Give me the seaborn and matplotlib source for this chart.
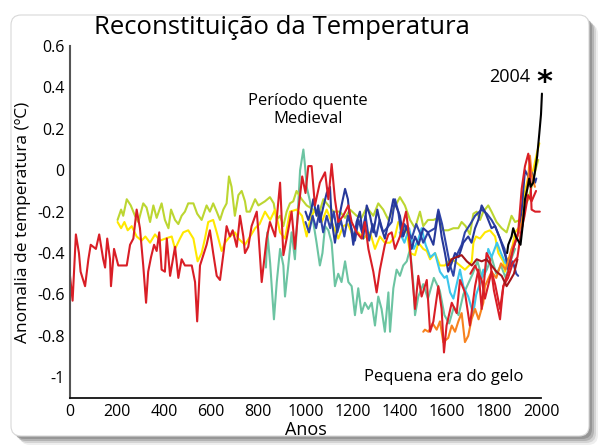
import matplotlib
matplotlib.use('Agg')
import matplotlib.pyplot as plt
from matplotlib.patches import FancyBboxPatch
from matplotlib.transforms import IdentityTransform
import pandas as pd
import seaborn as sns

# ============================================
# Data
# ============================================
red1_years = [0, 11, 25, 38, 45, 64, 78, 88, 110, 124, 141, 149, 158, 170, 174, 187, 205,
              241, 255, 269, 283, 297, 311, 323, 332, 344, 357, 368, 379, 389, 403, 411, 425,
              446, 460, 474, 488, 517, 531, 540, 552, 566, 580, 594, 608, 623, 637, 654, 665,
              679, 691, 708, 722, 736, 743, 757, 771, 793, 800, 814, 835, 849, 871, 892, 906,
              920, 941, 955, 969, 986, 1000, 1012, 1026, 1040, 1061, 1083, 1097, 1111, 1125,
              1139, 1160, 1182, 1196, 1217, 1238, 1252, 1267, 1288, 1302, 1316, 1337, 1352,
              1366, 1380, 1401, 1427, 1436, 1451, 1465, 1479, 1493, 1515, 1529, 1543, 1564,
              1578, 1588, 1599, 1621, 1642, 1656, 1677, 1698, 1720, 1734, 1748, 1769, 1783,
              1800, 1815, 1826, 1840, 1860, 1880, 1900, 1915, 1930, 1945, 1960, 1979]
red1_vals = [-0.51, -0.63, -0.31, -0.40, -0.49, -0.56, -0.43, -0.36, -0.38, -0.31, -0.43,
             -0.47, -0.33, -0.43, -0.56, -0.38, -0.46, -0.46, -0.36, -0.33, -0.19, -0.28,
             -0.46, -0.64, -0.49, -0.42, -0.36, -0.39, -0.30, -0.48, -0.49, -0.33, -0.51,
             -0.37, -0.52, -0.43, -0.46, -0.46, -0.54, -0.73, -0.46, -0.41, -0.36, -0.29,
             -0.40, -0.51, -0.53, -0.38, -0.27, -0.32, -0.29, -0.37, -0.22, -0.32, -0.40,
             -0.37, -0.27, -0.20, -0.30, -0.54, -0.33, -0.25, -0.32, -0.06, -0.41, -0.33,
             -0.20, -0.38, -0.20, -0.03, -0.11, 0.02, 0.02, -0.17, -0.06, -0.01, -0.14, 0.03,
             -0.14, -0.25, -0.22, -0.17, -0.25, -0.30, -0.33, -0.25, -0.38, -0.49, -0.59,
             -0.48, -0.36, -0.31, -0.30, -0.38, -0.32, -0.20, -0.28, -0.48, -0.67, -0.51,
             -0.61, -0.53, -0.78, -0.73, -0.56, -0.67, -0.88, -0.75, -0.64, -0.69, -0.53,
             -0.59, -0.75, -0.56, -0.48, -0.67, -0.40, -0.43, -0.58, -0.66, -0.72, -0.56,
             -0.52, -0.45, -0.42, -0.30, -0.22, -0.12, -0.15, -0.10]

red2_years = [1700, 1720, 1748, 1762, 1790, 1805, 1826, 1840, 1861, 1882, 1903, 1918, 1932,
              1946, 1953, 1960, 1975, 1995]
red2_vals = [-0.50, -0.46, -0.53, -0.62, -0.49, -0.55, -0.67, -0.56, -0.49, -0.38, -0.30,
             -0.09, 0.02, 0.08, 0.02, -0.19, -0.20, -0.20]

lime_years = [202, 217, 226, 241, 258, 276, 290, 311, 325, 340, 354, 368, 389, 403, 418, 429,
              446, 460, 474, 488, 502, 524, 540, 559, 580, 594, 608, 623, 637, 651, 665, 675,
              686, 700, 715, 729, 743, 750, 764, 786, 800, 814, 828, 849, 865, 877, 892, 906,
              920, 934, 948, 962, 984, 1005, 1033, 1054, 1076, 1097, 1118, 1146, 1168, 1189,
              1217, 1238, 1260, 1288, 1309, 1330, 1352, 1366, 1387, 1401, 1422, 1444, 1465,
              1486, 1500, 1520, 1543, 1564, 1585, 1606, 1628, 1649, 1663, 1680, 1698, 1713,
              1727, 1741, 1755, 1776, 1790, 1811, 1833, 1854, 1875, 1890, 1911, 1932, 1946,
              1960, 1974, 1988]
lime_vals = [-0.24, -0.19, -0.22, -0.14, -0.17, -0.22, -0.25, -0.16, -0.18, -0.25, -0.17,
             -0.23, -0.16, -0.24, -0.28, -0.19, -0.24, -0.26, -0.22, -0.20, -0.16, -0.16,
             -0.21, -0.24, -0.17, -0.20, -0.16, -0.20, -0.24, -0.19, -0.16, -0.03, -0.08,
             -0.22, -0.12, -0.10, -0.15, -0.20, -0.20, -0.14, -0.17, -0.16, -0.15, -0.13,
             -0.16, -0.24, -0.22, -0.27, -0.20, -0.16, -0.15, -0.10, -0.14, -0.17, -0.19,
             -0.22, -0.14, -0.17, -0.20, -0.20, -0.23, -0.19, -0.22, -0.23, -0.18, -0.22,
             -0.16, -0.19, -0.24, -0.20, -0.16, -0.13, -0.17, -0.24, -0.28, -0.20, -0.27,
             -0.24, -0.24, -0.23, -0.29, -0.29, -0.28, -0.28, -0.25, -0.27, -0.31, -0.21,
             -0.20, -0.24, -0.20, -0.17, -0.20, -0.25, -0.28, -0.30, -0.22, -0.25, -0.24,
             -0.17, -0.14, -0.08, -0.01, 0.05]

yellow_years = [202, 217, 231, 245, 262, 283, 304, 320, 340, 361, 382, 405, 432, 446, 467,
                481, 502, 524, 542, 559, 573, 587, 608, 623, 644, 658, 679, 700, 715, 743,
                765, 786, 805, 828, 850, 871, 892, 913, 934, 962, 985, 1005, 1019, 1040,
                1069, 1090, 1118, 1139, 1160, 1180, 1203, 1224, 1245, 1274, 1295, 1316,
                1337, 1359, 1380, 1394, 1410, 1430, 1444, 1465, 1479, 1500, 1515, 1529,
                1550, 1571, 1592, 1614, 1635, 1656, 1677, 1695, 1706, 1713, 1724, 1741,
                1762, 1783, 1805, 1819, 1840, 1847, 1854, 1870, 1890, 1911, 1925, 1946,
                1967, 1984, 1993]
yellow_vals = [-0.25, -0.28, -0.25, -0.29, -0.27, -0.32, -0.34, -0.32, -0.35, -0.31, -0.34,
               -0.33, -0.32, -0.38, -0.33, -0.30, -0.29, -0.33, -0.44, -0.40, -0.33, -0.25,
               -0.24, -0.30, -0.39, -0.35, -0.32, -0.30, -0.33, -0.36, -0.32, -0.28, -0.26,
               -0.20, -0.24, -0.19, -0.30, -0.33, -0.20, -0.19, -0.22, -0.32, -0.24, -0.19,
               -0.25, -0.19, -0.27, -0.33, -0.27, -0.26, -0.32, -0.30, -0.33, -0.30, -0.38,
               -0.32, -0.35, -0.35, -0.32, -0.25, -0.27, -0.30, -0.40, -0.41, -0.35, -0.38,
               -0.39, -0.43, -0.40, -0.46, -0.46, -0.43, -0.44, -0.46, -0.48, -0.46, -0.44,
               -0.35, -0.32, -0.33, -0.30, -0.29, -0.32, -0.40, -0.44, -0.49, -0.43, -0.42,
               -0.30, -0.27, -0.14, -0.03, 0.00, 0.09, 0.13]

teal_years = [832, 838, 850, 866, 878, 892, 906, 913, 927, 941, 955, 969, 977, 991, 998,
              1005, 1019, 1033, 1047, 1061, 1072, 1083, 1097, 1111, 1125, 1139, 1153, 1168,
              1182, 1196, 1210, 1224, 1238, 1252, 1267, 1281, 1295, 1309, 1323, 1337, 1352,
              1359, 1373, 1387, 1401, 1415, 1430, 1444, 1458, 1465, 1479, 1500, 1520, 1545,
              1570, 1590, 1610, 1630, 1650, 1670, 1690, 1710, 1730, 1750, 1770, 1790, 1810,
              1830, 1850, 1870, 1890]
teal_vals = [-0.47, -0.30, -0.45, -0.72, -0.54, -0.38, -0.46, -0.61, -0.46, -0.30, -0.43,
             -0.17, 0.00, 0.10, 0.02, -0.08, -0.15, -0.25, -0.35, -0.46, -0.40, -0.27, -0.29,
             -0.35, -0.56, -0.50, -0.54, -0.44, -0.54, -0.56, -0.70, -0.57, -0.69, -0.64,
             -0.67, -0.64, -0.75, -0.61, -0.67, -0.78, -0.59, -0.78, -0.57, -0.48, -0.51,
             -0.46, -0.44, -0.38, -0.55, -0.70, -0.61, -0.55, -0.62, -0.52, -0.58, -0.70,
             -0.74, -0.66, -0.70, -0.60, -0.55, -0.50, -0.44, -0.52, -0.48, -0.42, -0.50,
             -0.46, -0.52, -0.44, -0.38]

blue1_years = [1000, 1012, 1023, 1033, 1047, 1054, 1061, 1075, 1090, 1104, 1111, 1125, 1139,
               1153, 1168, 1180, 1189, 1203, 1217, 1231, 1245, 1260, 1274, 1288, 1305, 1320,
               1337, 1359, 1373, 1387, 1401, 1415, 1430, 1451, 1465, 1480, 1500, 1520, 1543,
               1564, 1578, 1592, 1606, 1620, 1635, 1650, 1670, 1691, 1705, 1720, 1734, 1748,
               1762, 1776, 1790, 1805, 1826, 1845, 1861, 1875, 1890, 1905, 1918, 1932, 1946,
               1960, 1975, 1980]
blue1_vals = [-0.20, -0.24, -0.20, -0.14, -0.22, -0.17, -0.25, -0.18, -0.11, -0.08, -0.24,
              -0.35, -0.25, -0.17, -0.09, -0.14, -0.24, -0.36, -0.25, -0.20, -0.33, -0.17,
              -0.22, -0.30, -0.19, -0.27, -0.33, -0.22, -0.14, -0.18, -0.22, -0.32, -0.27,
              -0.38, -0.32, -0.36, -0.28, -0.30, -0.36, -0.20, -0.32, -0.40, -0.49, -0.45,
              -0.40, -0.42, -0.35, -0.32, -0.35, -0.28, -0.24, -0.17, -0.20, -0.24, -0.28,
              -0.27, -0.33, -0.40, -0.46, -0.40, -0.35, -0.30, -0.19, 0.00, -0.03, -0.01,
              -0.06, -0.04]

blue2_years = [1000, 1015, 1030, 1045, 1060, 1075, 1090, 1105, 1120, 1135, 1150, 1165, 1180,
               1195, 1210, 1225, 1240, 1255, 1270, 1285, 1300, 1315, 1330, 1345, 1366, 1380,
               1394, 1408, 1420, 1451, 1470, 1485, 1500, 1520, 1550, 1564, 1580, 1592, 1614,
               1628, 1642, 1663, 1677, 1700, 1720, 1748, 1770, 1790, 1805, 1826, 1845, 1861,
               1880, 1895, 1903]
blue2_vals = [-0.25, -0.30, -0.22, -0.28, -0.20, -0.30, -0.22, -0.28, -0.20, -0.30, -0.24,
              -0.32, -0.22, -0.28, -0.34, -0.24, -0.30, -0.22, -0.34, -0.26, -0.32, -0.24,
              -0.30, -0.28, -0.25, -0.14, -0.20, -0.32, -0.26, -0.33, -0.26, -0.30, -0.35,
              -0.30, -0.28, -0.19, -0.26, -0.33, -0.46, -0.51, -0.41, -0.36, -0.30, -0.26,
              -0.22, -0.19, -0.21, -0.24, -0.27, -0.33, -0.38, -0.48, -0.44, -0.50, -0.51]

cyan_years = [1400, 1420, 1440, 1460, 1480, 1493, 1510, 1530, 1550, 1571, 1590, 1600, 1614,
              1628, 1642, 1656, 1670, 1691, 1706, 1711, 1725, 1740, 1755, 1762, 1776, 1790,
              1813, 1830, 1850, 1870, 1880]
cyan_vals = [-0.30, -0.35, -0.28, -0.38, -0.33, -0.28, -0.36, -0.42, -0.40, -0.49, -0.52,
             -0.51, -0.59, -0.62, -0.55, -0.48, -0.56, -0.61, -0.67, -0.70, -0.60, -0.55,
             -0.48, -0.50, -0.38, -0.42, -0.35, -0.40, -0.45, -0.42, -0.38]

orange_years = [1500, 1507, 1522, 1540, 1557, 1571, 1585, 1606, 1621, 1635, 1649, 1663, 1677,
                1691, 1705, 1720, 1735, 1755, 1762, 1790, 1810, 1830, 1850, 1875, 1900, 1918,
                1932, 1945, 1953, 1960, 1974]
orange_vals = [-0.78, -0.77, -0.78, -0.74, -0.77, -0.73, -0.83, -0.81, -0.75, -0.78, -0.73,
               -0.69, -0.83, -0.80, -0.72, -0.67, -0.72, -0.64, -0.56, -0.49, -0.52, -0.45,
               -0.48, -0.38, -0.32, -0.25, -0.17, -0.05, 0.07, -0.02, -0.08]

darkred_years = [1605, 1620, 1640, 1663, 1685, 1706, 1727, 1748, 1769, 1790, 1811, 1833, 1854,
                 1870, 1885, 1900]
darkred_vals = [-0.46, -0.43, -0.42, -0.41, -0.44, -0.46, -0.43, -0.44, -0.43, -0.46, -0.49,
                -0.51, -0.56, -0.53, -0.50, -0.43]

black_years = [1856, 1861, 1875, 1882, 1893, 1903, 1913, 1922, 1932, 1942, 1950, 1956, 1967,
               1974, 1984, 1993, 2000, 2004]
black_vals = [-0.40, -0.36, -0.32, -0.28, -0.32, -0.34, -0.36, -0.27, -0.14, -0.09, -0.04,
              -0.08, -0.06, -0.01, 0.07, 0.18, 0.27, 0.37]

x_ticks = [0, 200, 400, 600, 800, 1000, 1200, 1400, 1600, 1800, 2000]
y_ticks = [0.6, 0.4, 0.2, 0, -0.2, -0.4, -0.6, -0.8, -1]
y_tick_labels = ['0.6', '0.4', '0.2', '0', '-0.2', '-0.4', '-0.6', '-0.8', '-1']

# draw order: first = bottom
series = [
    ('teal',    teal_years,    teal_vals,    '#6cc4a2'),
    ('lime',    lime_years,    lime_vals,    '#bcd631'),
    ('yellow',  yellow_years,  yellow_vals,  '#ffe800'),
    ('cyan',    cyan_years,    cyan_vals,    '#3cc6ec'),
    ('blue2',   blue2_years,   blue2_vals,   '#2f45a8'),
    ('blue1',   blue1_years,   blue1_vals,   '#26389a'),
    ('orange',  orange_years,  orange_vals,  '#f7821e'),
    ('red1',    red1_years,    red1_vals,    '#d91e26'),
    ('red2',    red2_years,    red2_vals,    '#d91e26'),
    ('darkred', darkred_years, darkred_vals, '#a3151a'),
    ('black',   black_years,   black_vals,   '#000000'),
]

frames = []
for name, yrs, vals, _ in series:
    frames.append(pd.DataFrame({'ano': yrs, 'anomalia': vals, 'serie': name}))
df = pd.concat(frames, ignore_index=True)
palette = {name: col for name, _, _, col in series}
order = [name for name, _, _, _ in series]

# ============================================
# Figure
# ============================================
sns.set_style('white')
plt.rcParams['font.family'] = ['Open Sans', 'DejaVu Sans']
plt.rcParams['text.color'] = 'black'
plt.rcParams['axes.labelcolor'] = 'black'
plt.rcParams['xtick.color'] = 'black'
plt.rcParams['ytick.color'] = 'black'

W, H = 600, 445
fig = plt.figure(figsize=(W / 100, H / 100), dpi=100)
fig.patch.set_facecolor('white')

# rounded frame with shadow (pixel coords, origin bottom-left)
fx0, fy0, fx1, fy1 = 11, 9, 589, 430
for off, a in [(9, 0.10), (7, 0.18), (5, 0.28), (3, 0.35)]:
    fig.patches.append(FancyBboxPatch(
        (fx0 + off, fy0 - off), fx1 - fx0, fy1 - fy0,
        boxstyle='round,pad=0,rounding_size=10', transform=IdentityTransform(),
        facecolor='#606060', edgecolor='none', alpha=a, zorder=-5))
fig.patches.append(FancyBboxPatch(
    (fx0, fy0), fx1 - fx0, fy1 - fy0,
    boxstyle='round,pad=0,rounding_size=10', transform=IdentityTransform(),
    facecolor='white', edgecolor='#d8d8d8', linewidth=0.8, zorder=-4))

ax = fig.add_axes([70 / W, 1 - 398 / H, 471 / W, (398 - 46) / H])
ax.set_facecolor('none')
ax.set_zorder(2)

sns.lineplot(data=df, x='ano', y='anomalia', hue='serie', hue_order=order,
             palette=palette, estimator=None, sort=False, legend=False,
             linewidth=1.5, ax=ax)
for ln in ax.lines:
    ln.set_clip_on(False)   # instrumental record runs to 2004, past the axis end

ax.set_xlim(0, 2000)
ax.set_ylim(-1.1, 0.6)
ax.set_xticks(x_ticks)
ax.set_yticks(y_ticks)
ax.set_yticklabels(y_tick_labels)
ax.tick_params(axis='both', direction='in', length=4, width=1, labelsize=11.5,
               color='#222222', pad=4)
sns.despine(ax=ax)
ax.spines['left'].set_color('#555555')
ax.spines['left'].set_linewidth(1.5)
ax.spines['bottom'].set_color('#111111')
ax.spines['bottom'].set_linewidth(1.3)

ax.set_xlabel('Anos', fontsize=13, labelpad=1)
ax.set_ylabel('Anomalia de temperatura (ºC)', fontsize=12.5, labelpad=4)

ax.text(1010, 0.29, 'Período quente\nMedieval', ha='center', va='center',
        fontsize=12, linespacing=1.15)
ax.text(1585, -1.0, 'Pequena era do gelo', ha='center', va='center', fontsize=12)
ax.text(1955, 0.448, '2004', ha='right', va='center', fontsize=13)
ax.text(2015, 0.425, '*', ha='center', va='center', fontsize=22,
        fontweight='bold', family='DejaVu Sans')

fig.text(282 / W, 1 - 27 / H, 'Reconstituição da Temperatura', ha='center',
         va='center', fontsize=18.5)

fig.savefig('out.png', dpi=100)
